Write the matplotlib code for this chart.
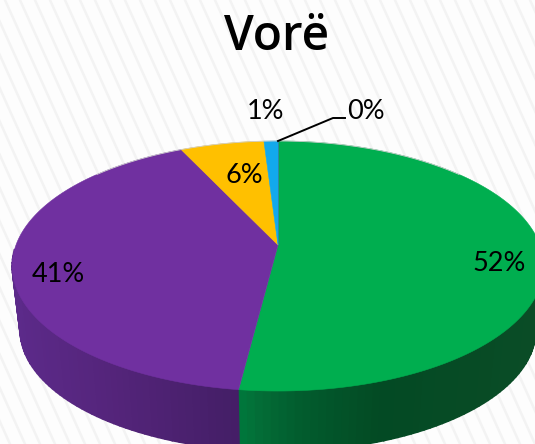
# coding:utf-8
import numpy as np
import matplotlib
matplotlib.use('Agg')
import matplotlib.pyplot as plt

plt.rcParams['font.family'] = ['Lato', 'DejaVu Sans']

# data
title = 'Vorë'
values = [52, 41, 6, 1, 0]
labels = ['52%', '41%', '6%', '1%', '0%']
colors = ['#00ae4f', '#7030a0', '#ffc000', '#12a9ec', '#4472c4']
label_x = [499, 58, 244, 266, 366]
label_y = [263, 274, 175, 111, 111]

# wall shading, keyed on pixel x
wall_x = [12, 100, 238, 239, 260, 300, 380, 535]
wall_r = [0x5c, 0x55, 0x44, 0x00, 0x03, 0x02, 0x03, 0x0a]
wall_g = [0x2a, 0x25, 0x1e, 0x78, 0x6c, 0x5c, 0x4a, 0x4c]
wall_b = [0x8a, 0x7c, 0x66, 0x3c, 0x36, 0x2e, 0x24, 0x26]

# pie seen in perspective: apex above the centre of the outline
cx, apex_y = 278, 245
A, B, k = 262.0, 121.5, 0.168
ell_y, depth, shrink = 266, 64, 0.97


def project(theta):
    # theta in degrees, clockwise from the top of the pie
    t = np.radians(theta)
    u, v = np.sin(t), np.cos(t)
    w = 1 + k * v
    return cx + A * u / w, apex_y - B * v / w


def project_low(theta):
    x, y = project(theta)
    return cx + shrink * (x - cx), ell_y + shrink * (y - ell_y) + depth


fig = plt.figure(figsize=(5.35, 4.44), dpi=100, facecolor='#fdfdfd')
ax = fig.add_axes([0, 0, 1, 1])
ax.set_xlim(0, 535)
ax.set_ylim(444, 0)
ax.axis('off')

# faint diagonal stripes of the slide background
for x0 in range(-250, 560, 15):
    ax.plot([x0, x0 + 200], [0, 444], color='#f3f3f3', lw=1.8, zorder=0)

# side wall, only the part facing the viewer
edges = np.linspace(92, 268, 121)
for a, b in zip(edges[:-1], edges[1:]):
    xa, ya = project(a)
    xb, yb = project(b)
    xc, yc = project_low(b)
    xd, yd = project_low(a)
    mid = (xa + xb) / 2
    col = (np.interp(mid, wall_x, wall_r) / 255,
           np.interp(mid, wall_x, wall_g) / 255,
           np.interp(mid, wall_x, wall_b) / 255)
    ax.fill([xa, xb, xc, xd], [ya, yb, yc, yd], color=col, lw=1.2, zorder=1)

# top face
total = sum(values)
start = 0
for val, col in zip(values, colors):
    end = start + val / total * 360
    th = np.linspace(start, end, max(int(end - start) * 2, 2))
    xs, ys = project(th)
    ax.fill(np.r_[cx, xs], np.r_[apex_y, ys], color=col, lw=0.4, zorder=2)
    start = end

# thin grey rim at the far edge
xs, ys = project(np.linspace(-50, 50, 200))
ax.plot(xs, ys, color='#cfcfcf', lw=0.6, zorder=3)

# leader line of the 0% label
ax.plot([278, 333, 345], [141, 118, 118], color='black', lw=1.4, zorder=4)

for lx, ly, s in zip(label_x, label_y, labels):
    ax.text(lx, ly, s, fontsize=19.5, ha='center', va='center', color='black', zorder=5)

ax.text(277, 38, title, family=['Open Sans', 'DejaVu Sans'], fontsize=34.5, ha='center',
        va='center', color='black', fontweight='semibold', zorder=5)

plt.savefig('out.png', dpi=100, facecolor=fig.get_facecolor())
